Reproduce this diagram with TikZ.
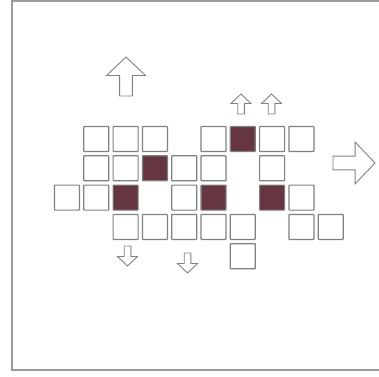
\documentclass[tikz,border=0pt]{standalone}
\usepackage{tikz}
\usetikzlibrary{calc}
\definecolor{framegray}{RGB}{155,155,155}
\definecolor{edgegray}{RGB}{128,128,128}
\definecolor{wine}{RGB}{102,54,64}
\tikzset{
  cell/.style={draw=edgegray,line width=1.2pt,minimum size=25pt,inner sep=0pt,rounded corners=0.6pt},
  hotcell/.style={cell,fill=wine},
  blockarr/.pic={\draw[edgegray,line width=0.9pt,fill=white]
    (0,-3.3) -- (10.5,-3.3) -- (10.5,-10) -- (20,0) -- (10.5,10) -- (10.5,3.3) -- (0,3.3) -- cycle;},
}
\begin{document}
\begin{tikzpicture}[x=1pt,y=-1pt]
  \useasboundingbox (0,0) rectangle (379,376);
  \draw[framegray,line width=1.4pt] (12,1) rectangle (384,370);
  % grid of cells: row/column/style
  \foreach \r/\c/\s in {0/1/cell,0/2/cell,0/3/cell,0/5/cell,0/6/hotcell,0/7/cell,0/8/cell,
                        1/1/cell,1/2/cell,1/3/hotcell,1/4/cell,1/5/cell,1/7/cell,
                        2/0/cell,2/1/cell,2/2/hotcell,2/4/cell,2/5/hotcell,2/7/hotcell,2/8/cell,
                        3/2/cell,3/3/cell,3/4/cell,3/5/cell,3/6/cell,3/8/cell,3/9/cell,
                        4/6/cell}{
    \node[\s] (c\r\c) at ({67+29.3*\c},{139+29.3*\r}) {};}
  % arrows
  \pic[rotate=90,scale=1.95] (bigup) at (126,96) {blockarr};
  \pic[rotate=0,scale=2.1] (right) at (333,163) {blockarr};
  \foreach \n/\x/\y/\a in {upa/241/114/90, upb/271.5/114/90, dna/127.5/246/-90, dnb/187.5/253/-90}{
    \pic[rotate=\a] (\n) at (\x,\y) {blockarr};}
\end{tikzpicture}
\end{document}
